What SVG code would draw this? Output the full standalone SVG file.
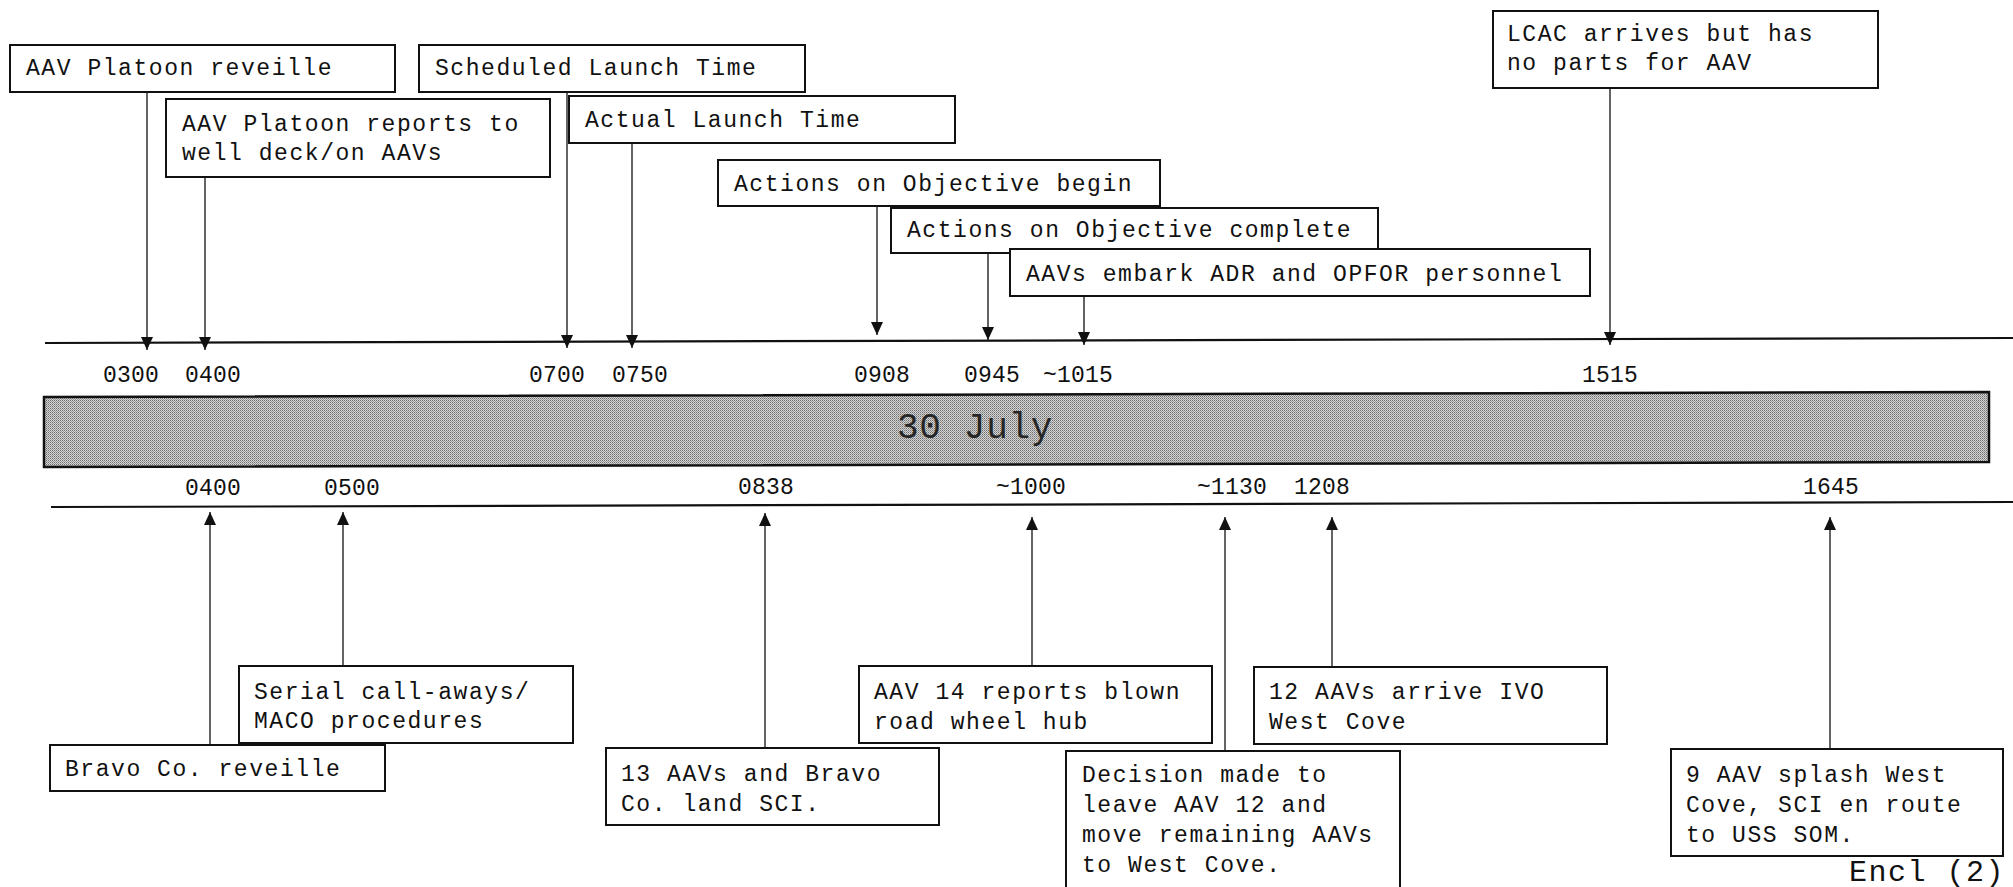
<svg xmlns="http://www.w3.org/2000/svg" width="2013" height="887" viewBox="0 0 2013 887">
<defs>
<style>
.box{fill:#fff;stroke:#111;stroke-width:2}
.t{font-family:"Liberation Mono","DejaVu Sans Mono",monospace;font-size:23px;letter-spacing:1.55px;fill:#111}
.lbl{font-family:"Liberation Mono","DejaVu Sans Mono",monospace;font-size:23px;letter-spacing:0.2px;fill:#111;text-anchor:middle}
.ax{stroke:#111;stroke-width:2.2;fill:none}
.ar{stroke:#111;stroke-width:1.3;fill:none;marker-end:url(#ah)}
</style>
<marker id="ah" markerUnits="userSpaceOnUse" markerWidth="13" markerHeight="12" refX="13" refY="6" orient="auto">
<path d="M0,0 L13,6 L0,12 z" fill="#111"/>
</marker>
<pattern id="dith" width="2" height="2" patternUnits="userSpaceOnUse">
<rect width="2" height="2" fill="#d4d4d4"/>
<rect width="1" height="1" fill="#6e6e6e"/>
<rect x="1" y="1" width="1" height="1" fill="#989898"/>
</pattern>
</defs>
<rect width="2013" height="887" fill="#fff"/>

<g id="timeline">
<line class="ax" x1="45" y1="343" x2="2013" y2="338"/>
<line class="ax" x1="51" y1="507" x2="2013" y2="502"/>
<polygon points="44,397 1989,392 1989,462 44,467" fill="url(#dith)" stroke="#111" stroke-width="2.5"/>
<text x="975" y="438" style="font-family:'Liberation Mono','DejaVu Sans Mono',monospace;font-size:36px;letter-spacing:0.7px;fill:#262626;text-anchor:middle">30 July</text>
</g>

<g id="top-labels">
<text class="lbl" x="131" y="382">0300</text>
<text class="lbl" x="213" y="382">0400</text>
<text class="lbl" x="557" y="382">0700</text>
<text class="lbl" x="640" y="382">0750</text>
<text class="lbl" x="882" y="382">0908</text>
<text class="lbl" x="992" y="382">0945</text>
<text class="lbl" x="1078" y="382">~1015</text>
<text class="lbl" x="1610" y="382">1515</text>
</g>

<g id="bottom-labels">
<text class="lbl" x="213" y="495">0400</text>
<text class="lbl" x="352" y="495">0500</text>
<text class="lbl" x="766" y="494">0838</text>
<text class="lbl" x="1031" y="494">~1000</text>
<text class="lbl" x="1232" y="494">~1130</text>
<text class="lbl" x="1322" y="494">1208</text>
<text class="lbl" x="1831" y="494">1645</text>
</g>

<g id="connectors">
<line class="ar" x1="147" y1="92" x2="147" y2="350"/>
<line class="ar" x1="205" y1="177" x2="205" y2="350"/>
<line class="ar" x1="567" y1="92" x2="567" y2="348"/>
<line class="ar" x1="632" y1="143" x2="632" y2="348"/>
<line class="ar" x1="877" y1="206" x2="877" y2="335"/>
<line class="ar" x1="988" y1="253" x2="988" y2="340"/>
<line class="ar" x1="1084" y1="296" x2="1084" y2="345"/>
<line class="ar" x1="1610" y1="88" x2="1610" y2="345"/>
<line class="ar" x1="210" y1="745" x2="210" y2="512"/>
<line class="ar" x1="343" y1="666" x2="343" y2="512"/>
<line class="ar" x1="765" y1="748" x2="765" y2="513"/>
<line class="ar" x1="1032" y1="666" x2="1032" y2="517"/>
<line class="ar" x1="1225" y1="751" x2="1225" y2="517"/>
<line class="ar" x1="1332" y1="667" x2="1332" y2="517"/>
<line class="ar" x1="1830" y1="749" x2="1830" y2="517"/>
</g>

<g id="n-platoon-reveille">
<rect class="box" x="10" y="45" width="385" height="47"/>
<text class="t" x="26" y="75">AAV Platoon reveille</text>
</g>
<g id="n-platoon-reports">
<rect class="box" x="166" y="99" width="384" height="78"/>
<text class="t" x="182" y="131">AAV Platoon reports to</text>
<text class="t" x="182" y="160">well deck/on AAVs</text>
</g>
<g id="n-scheduled-launch">
<rect class="box" x="419" y="45" width="386" height="47"/>
<text class="t" x="435" y="75">Scheduled Launch Time</text>
</g>
<g id="n-actual-launch">
<rect class="box" x="569" y="96" width="386" height="47"/>
<text class="t" x="585" y="127">Actual Launch Time</text>
</g>
<g id="n-objective-begin">
<rect class="box" x="718" y="160" width="442" height="46"/>
<text class="t" x="734" y="191">Actions on Objective begin</text>
</g>
<g id="n-objective-complete">
<rect class="box" x="891" y="208" width="487" height="45"/>
<text class="t" x="907" y="237">Actions on Objective complete</text>
</g>
<g id="n-embark">
<rect class="box" x="1010" y="249" width="580" height="47"/>
<text class="t" x="1026" y="281">AAVs embark ADR and OPFOR personnel</text>
</g>
<g id="n-lcac">
<rect class="box" x="1493" y="11" width="385" height="77"/>
<text class="t" x="1507" y="41">LCAC arrives but has</text>
<text class="t" x="1507" y="70">no parts for AAV</text>
</g>

<g id="n-bravo-reveille">
<rect class="box" x="50" y="745" width="335" height="46"/>
<text class="t" x="65" y="776">Bravo Co. reveille</text>
</g>
<g id="n-serial">
<rect class="box" x="239" y="666" width="334" height="77"/>
<text class="t" x="254" y="699">Serial call-aways/</text>
<text class="t" x="254" y="728">MACO procedures</text>
</g>
<g id="n-land-sci">
<rect class="box" x="606" y="748" width="333" height="77"/>
<text class="t" x="621" y="781">13 AAVs and Bravo</text>
<text class="t" x="621" y="811">Co. land SCI.</text>
</g>
<g id="n-aav14">
<rect class="box" x="859" y="666" width="353" height="77"/>
<text class="t" x="874" y="699">AAV 14 reports blown</text>
<text class="t" x="874" y="729">road wheel hub</text>
</g>
<g id="n-decision">
<rect class="box" x="1066" y="751" width="334" height="145"/>
<text class="t" x="1082" y="782">Decision made to</text>
<text class="t" x="1082" y="812">leave AAV 12 and</text>
<text class="t" x="1082" y="842">move remaining AAVs</text>
<text class="t" x="1082" y="872">to West Cove.</text>
</g>
<g id="n-arrive-ivo">
<rect class="box" x="1254" y="667" width="353" height="77"/>
<text class="t" x="1269" y="699">12 AAVs arrive IVO</text>
<text class="t" x="1269" y="729">West Cove</text>
</g>
<g id="n-splash">
<rect class="box" x="1671" y="749" width="332" height="107"/>
<text class="t" x="1686" y="782">9 AAV splash West</text>
<text class="t" x="1686" y="812">Cove, SCI en route</text>
<text class="t" x="1686" y="842">to USS SOM.</text>
</g>

<text x="1849" y="881" style="font-family:'Liberation Mono','DejaVu Sans Mono',monospace;font-size:30px;letter-spacing:1.5px;fill:#111">Encl (2)</text>
</svg>
